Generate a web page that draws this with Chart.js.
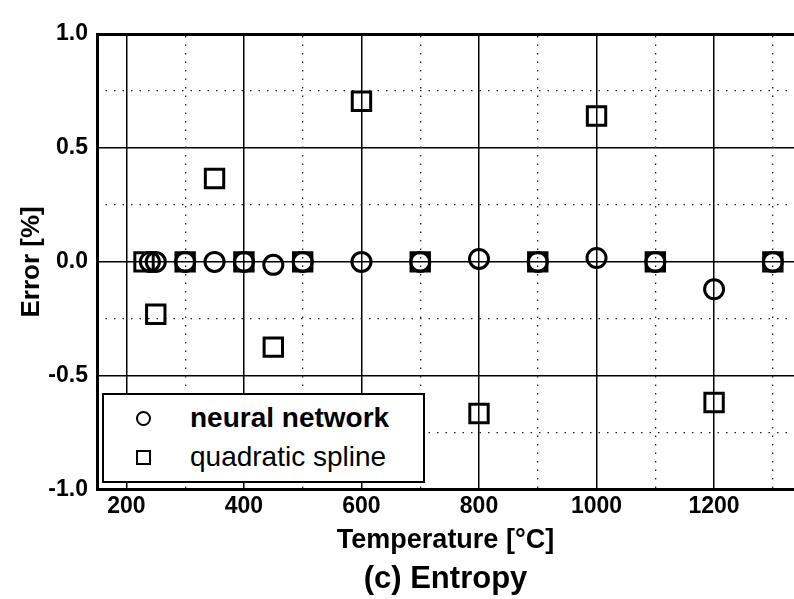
<!DOCTYPE html>
<html>
<head>
<meta charset="utf-8">
<script src="https://cdn.jsdelivr.net/npm/chart.js@4.4.0/dist/chart.umd.min.js"></script>
<style>
  html, body { margin: 0; padding: 0; background: #fff; }
  #wrap { position: relative; width: 794px; height: 599px; }
  #legend {
    position: absolute; left: 102px; top: 393px; width: 319px; height: 86px;
    border: 2.5px solid #000; background: #fff; color: #000;
    font-family: "Liberation Sans", Arial, sans-serif; font-size: 28px;
  }
  .row { position: absolute; left: 0; width: 100%; height: 32px; }
  .mark { position: absolute; left: 32px; top: 9px; width: 11px; height: 11px; border: 2.5px solid #000; }
  .circ { border-radius: 50%; }
  .txt { position: absolute; left: 86px; top: 0; line-height: 32px; white-space: nowrap; }
</style>
</head>
<body>
<div id="wrap">
  <canvas id="myChart" width="794" height="599"></canvas>
  <div id="legend">
    <div class="row" style="top:7px"><span class="mark circ"></span><span class="txt" style="font-weight:bold">neural network</span></div>
    <div class="row" style="top:46px"><span class="mark"></span><span class="txt">quadratic spline</span></div>
  </div>
</div>
<script>
const xMajor = [200, 400, 600, 800, 1000, 1200];
const xMinor = [300, 500, 700, 900, 1100, 1300];
const yMajor = [1.0, 0.5, 0.0, -0.5, -1.0];
const yMinor = [0.75, 0.25, -0.25, -0.75];

// neural network (circles)
const nnTemp  = [240, 250, 300, 350, 400, 450, 500, 600, 700, 800, 900, 1000, 1100, 1200, 1300];
const nnError = [0, 0, 0, 0, 0, -0.013, 0, 0, 0, 0.013, 0, 0.017, 0, -0.12, 0];

// quadratic spline (squares)
const qsTemp  = [230, 250, 300, 350, 400, 450, 500, 600, 700, 800, 900, 1000, 1100, 1200, 1300];
const qsError = [0, -0.23, 0, 0.366, 0, -0.374, 0, 0.705, 0, -0.665, 0, 0.64, 0, -0.617, 0];

const FONT = '"Liberation Sans", Arial, sans-serif';
const ctx = document.getElementById('myChart').getContext('2d');

function toPoints(xs, ys) {
    return xs.map((x, i) => ({x: x, y: ys[i]}));
}

const myChart = new Chart(ctx, {
    type: 'scatter',
    data: {
        datasets: [{
            label: 'neural network',
            data: toPoints(nnTemp, nnError),
            pointStyle: 'circle',
            pointRadius: 9.5,
            borderWidth: 3,
            borderColor: '#000',
            backgroundColor: 'rgba(0,0,0,0)'
        }, {
            label: 'quadratic spline',
            data: toPoints(qsTemp, qsError),
            pointStyle: 'rect',
            pointRadius: 13,
            borderWidth: 3,
            borderColor: '#000',
            backgroundColor: 'rgba(0,0,0,0)'
        }]
    },
    options: {
        responsive: false,
        animation: false,
        layout: { autoPadding: false, padding: { top: 34, left: 0, right: 0, bottom: 0 } },
        plugins: {
            legend: { display: false },
            tooltip: { enabled: false },
            title: {
                display: true,
                position: 'bottom',
                fullSize: false,
                text: '(c) Entropy',
                color: '#000',
                font: { family: FONT, size: 31, weight: 'bold' },
                padding: { top: 0, bottom: 1 }
            }
        },
        scales: {
            x: {
                type: 'linear',
                position: 'bottom',
                min: 150,
                max: 1336,
                afterBuildTicks: s => { s.ticks = xMajor.map(v => ({value: v})); },
                afterFit: s => { s.height = 71; },
                ticks: {
                    color: '#000', padding: 3, maxRotation: 0, autoSkip: false,
                    font: { family: FONT, size: 23, weight: 'bold' },
                    callback: v => String(v)
                },
                grid: { color: '#000', lineWidth: 1.5, drawTicks: false },
                border: { display: true, color: '#000', width: 3 },
                title: {
                    display: true, text: 'Temperature [°C]', color: '#000',
                    font: { family: FONT, size: 27, weight: 'bold' },
                    padding: { top: 0, bottom: 4 }
                }
            },
            y: {
                type: 'linear',
                position: 'left',
                min: -1,
                max: 1,
                afterBuildTicks: s => { s.ticks = yMajor.map(v => ({value: v})); },
                afterFit: s => { s.width = 97; },
                ticks: {
                    color: '#000', padding: 9,
                    font: { family: FONT, size: 23, weight: 'bold' },
                    callback: v => v.toFixed(1)
                },
                grid: { color: '#000', lineWidth: 1.5, drawTicks: false },
                border: { display: true, color: '#000', width: 3 },
                title: {
                    display: true, text: 'Error [%]', color: '#000',
                    font: { family: FONT, size: 26, weight: 'bold' },
                    padding: { top: 16, bottom: 0 }
                }
            },
            xm: {
                type: 'linear',
                position: 'top',
                min: 150,
                max: 1336,
                afterBuildTicks: s => { s.ticks = xMinor.map(v => ({value: v})); },
                afterFit: s => { s.height = 0; },
                ticks: { display: false },
                grid: { color: '#222', lineWidth: 1.3, drawTicks: false },
                border: { display: true, color: '#000', width: 3, dash: [1.5, 7] }
            },
            ym: {
                type: 'linear',
                position: 'right',
                min: -1,
                max: 1,
                afterBuildTicks: s => { s.ticks = yMinor.map(v => ({value: v})); },
                afterFit: s => { s.width = 0; },
                ticks: { display: false },
                grid: { color: '#222', lineWidth: 1.3, drawTicks: false },
                border: { display: false, dash: [1.5, 7] }
            }
        }
    }
});
</script>
</body>
</html>
